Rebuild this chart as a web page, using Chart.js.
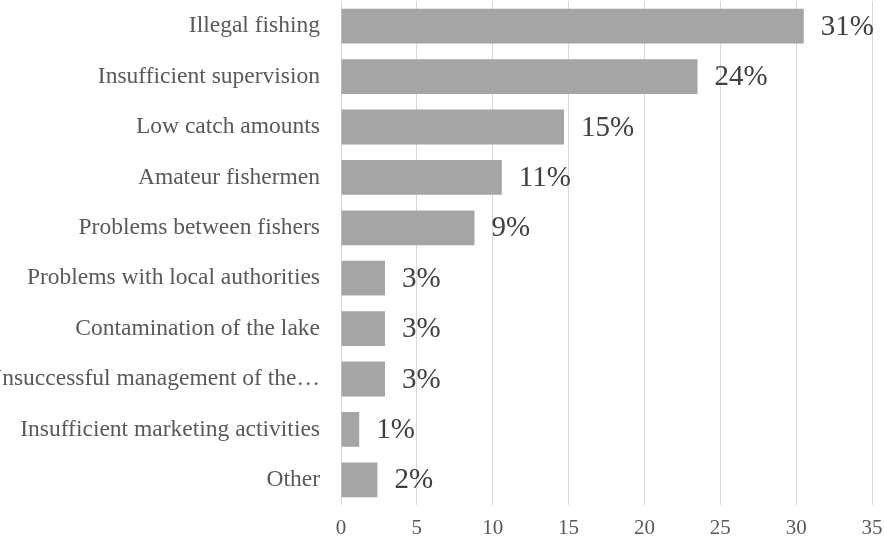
<!DOCTYPE html>
<html>
<head>
<meta charset="utf-8">
<script src="https://cdn.jsdelivr.net/npm/chart.js@4"></script>
<style>
  html, body { margin: 0; padding: 0; background: #fff; }
  #wrap { width: 884px; height: 549px; position: relative; }
</style>
</head>
<body>
<div id="wrap"><canvas id="myChart"></canvas></div>
<script>
const categories = [
  "Illegal fishing",
  "Insufficient supervision",
  "Low catch amounts",
  "Amateur fishermen",
  "Problems between fishers",
  "Problems with local authorities",
  "Contamination of the lake",
  "Unsuccessful management of the…",
  "Insufficient marketing activities",
  "Other",
];
const values = [30.5, 23.5, 14.7, 10.6, 8.8, 2.9, 2.9, 2.9, 1.2, 2.4];
const valueLabels = ["31%", "24%", "15%", "11%", "9%", "3%", "3%", "3%", "1%", "2%"];
const xTicks = [0, 5, 10, 15, 20, 25, 30, 35];

const serif = "'Liberation Serif', 'Times New Roman', serif";

// no datalabels plugin offline, so draw the percentages by hand
const barLabels = {
  id: "barLabels",
  afterDatasetsDraw(chart) {
    const ctx = chart.ctx;
    const meta = chart.getDatasetMeta(0);
    ctx.save();
    ctx.font = "29px " + serif;
    ctx.fillStyle = "#404040";
    ctx.textAlign = "left";
    ctx.textBaseline = "middle";
    meta.data.forEach((bar, i) => {
      ctx.fillText(valueLabels[i], bar.x + 17, bar.y + 1);
    });
    ctx.restore();
  },
};

const config = {
  type: "bar",
  data: {
    labels: categories,
    datasets: [
      {
        data: values,
        backgroundColor: "#a5a5a5",
        categoryPercentage: 1,
        barPercentage: 0.69,
      },
    ],
  },
  options: {
    indexAxis: "y",
    responsive: true,
    maintainAspectRatio: false,
    animation: false,
    layout: { padding: { top: 1, right: 0, bottom: 0, left: 0 } },
    plugins: {
      legend: { display: false },
      tooltip: { enabled: false },
    },
    scales: {
      x: {
        min: 0,
        max: 35,
        afterBuildTicks(scale) {
          scale.ticks = xTicks.map((v) => ({ value: v }));
        },
        afterFit(scale) {
          // keep the plot edges where the reference has them
          scale.height = 44;
          scale.paddingLeft = 0;
          scale.paddingRight = 12;
        },
        grid: { color: "#d9d9d9", lineWidth: 1, drawTicks: false },
        border: { display: false },
        ticks: {
          padding: 11,
          color: "#595959",
          font: { family: serif, size: 21 },
        },
      },
      y: {
        afterFit(scale) {
          scale.width = 341;
          scale.paddingTop = 0;
          scale.paddingBottom = 0;
        },
        grid: { display: false, drawTicks: false },
        border: { display: false },
        ticks: {
          padding: 21,
          color: "#595959",
          autoSkip: false,
          font: { family: serif, size: 23.5 },
        },
      },
    },
  },
  plugins: [barLabels],
};

const myChart = new Chart(document.getElementById("myChart"), config);
</script>
</body>
</html>
